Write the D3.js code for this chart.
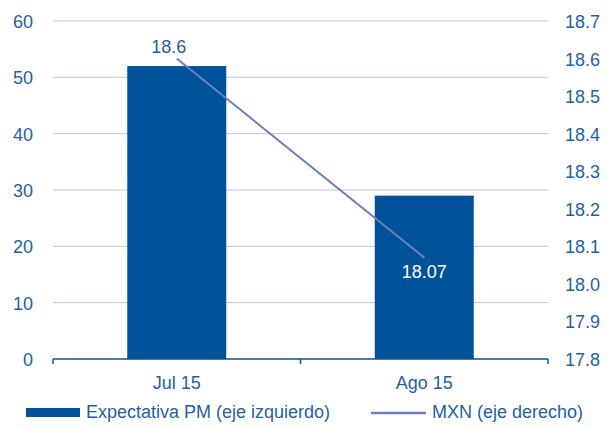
<!DOCTYPE html>
<html>
<head>
<meta charset="utf-8">
<script src="https://cdn.jsdelivr.net/npm/d3@7"></script>
<style>
  body { margin: 0; background: #fff; }
  text { font-family: "Liberation Sans", Arial, sans-serif; }
</style>
</head>
<body>
<svg id="chart" width="611" height="428"></svg>
<script>
// data
const categories = ['Jul 15', 'Ago 15'];
const pmValues = [52, 29];          // Expectativa PM (eje izquierdo)
const mxnValues = [18.6, 18.07];    // MXN (eje derecho)
const leftTicks = [0, 10, 20, 30, 40, 50, 60];
const rightTicks = [17.8, 17.9, 18.0, 18.1, 18.2, 18.3, 18.4, 18.5, 18.6, 18.7];
const legendLabels = ['Expectativa PM (eje izquierdo)', 'MXN (eje derecho)'];

const barColor = '#00529b';
const lineColor = '#6b7fbf';
const textColor = '#1f5fa6';
const gridColor = '#bcc4e3';
const fontSize = 18;

const svg = d3.select('#chart');
const plotLeft = 53, plotRight = 548, plotTop = 21, plotBottom = 359;

const x = d3.scaleBand().domain(categories).range([plotLeft, plotRight]).paddingInner(0.6).paddingOuter(0.3);
const xPoint = d => x(d) + x.bandwidth() / 2;
const yL = d3.scaleLinear().domain([0, 60]).range([plotBottom, plotTop]);
const yR = d3.scaleLinear().domain([17.8, 18.7]).range([plotBottom, plotTop]);

// gridlines
svg.append('g').selectAll('line')
    .data(leftTicks.filter(t => t > 0))
    .enter().append('line')
    .attr('x1', plotLeft).attr('x2', plotRight)
    .attr('y1', d => yL(d)).attr('y2', d => yL(d))
    .attr('stroke', gridColor).attr('stroke-width', 1);

// bars
svg.append('g').selectAll('rect')
    .data(pmValues)
    .enter().append('rect')
    .attr('x', (d, i) => x(categories[i]))
    .attr('y', d => yL(d))
    .attr('width', x.bandwidth())
    .attr('height', d => plotBottom - yL(d))
    .attr('fill', barColor);

// x axis line + ticks
svg.append('line')
    .attr('x1', plotLeft).attr('x2', plotRight)
    .attr('y1', plotBottom).attr('y2', plotBottom)
    .attr('stroke', '#0d4f98').attr('stroke-width', 1.5);
const bandEdges = [plotLeft, (plotLeft + plotRight) / 2, plotRight];
svg.append('g').selectAll('line')
    .data(bandEdges)
    .enter().append('line')
    .attr('x1', d => d).attr('x2', d => d)
    .attr('y1', plotBottom).attr('y2', plotBottom + 5)
    .attr('stroke', '#0d4f98').attr('stroke-width', 1.5);

// left axis labels
svg.append('g').selectAll('text')
    .data(leftTicks)
    .enter().append('text')
    .attr('x', 33)
    .attr('y', d => yL(d) + 7)
    .attr('text-anchor', 'end')
    .attr('font-size', fontSize)
    .attr('fill', textColor)
    .text(d => d);

// right axis labels
svg.append('g').selectAll('text')
    .data(rightTicks)
    .enter().append('text')
    .attr('x', 565)
    .attr('y', d => yR(d) + 7)
    .attr('font-size', fontSize)
    .attr('fill', textColor)
    .text(d => d.toFixed(1));

// category labels
svg.append('g').selectAll('text')
    .data(categories)
    .enter().append('text')
    .attr('x', d => xPoint(d))
    .attr('y', 389)
    .attr('text-anchor', 'middle')
    .attr('font-size', fontSize)
    .attr('fill', textColor)
    .text(d => d);

// MXN line
const line = d3.line()
    .x((d, i) => xPoint(categories[i]))
    .y(d => yR(d));
svg.append('path')
    .datum(mxnValues)
    .attr('d', line)
    .attr('fill', 'none')
    .attr('stroke', lineColor)
    .attr('stroke-width', 2);

// line labels
svg.append('text')
    .attr('x', xPoint(categories[0]) - 8)
    .attr('y', yR(mxnValues[0]) - 6)
    .attr('text-anchor', 'middle')
    .attr('font-size', fontSize)
    .attr('fill', textColor)
    .text(mxnValues[0]);
svg.append('text')
    .attr('x', xPoint(categories[1]))
    .attr('y', yR(mxnValues[1]) + 20)
    .attr('text-anchor', 'middle')
    .attr('font-size', fontSize)
    .attr('fill', '#fff')
    .text(mxnValues[1]);

// legend
svg.append('rect')
    .attr('x', 26).attr('y', 408).attr('width', 54).attr('height', 9)
    .attr('fill', barColor);
svg.append('text')
    .attr('x', 86).attr('y', 418)
    .attr('font-size', fontSize).attr('fill', textColor)
    .text(legendLabels[0]);
svg.append('line')
    .attr('x1', 371).attr('x2', 426).attr('y1', 413).attr('y2', 413)
    .attr('stroke', lineColor).attr('stroke-width', 2.5);
svg.append('text')
    .attr('x', 432).attr('y', 418)
    .attr('font-size', fontSize).attr('fill', textColor)
    .text(legendLabels[1]);
</script>
</body>
</html>
